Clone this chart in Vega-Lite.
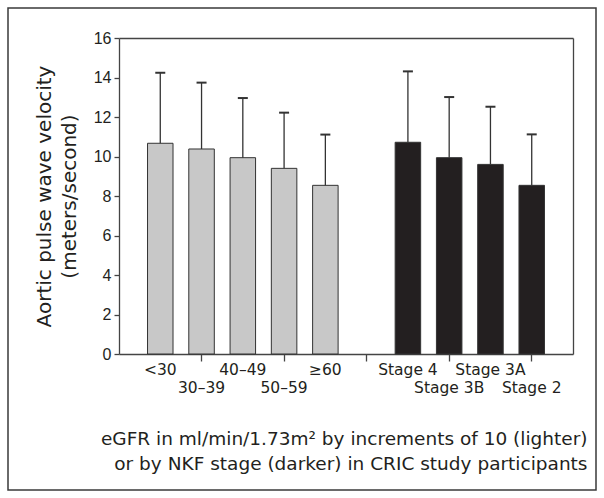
{
  "$schema": "https://vega.github.io/schema/vega-lite/v6.json",
  "width": 588,
  "height": 482,
  "padding": 8,
  "autosize": {"type": "none"},
  "background": "white",
  "config": {
    "view": {"stroke": "#3a3a3a", "strokeWidth": 1.5},
    "font": "DejaVu Sans",
    "axis": {
      "domainColor": "#444444",
      "domainWidth": 1.3,
      "tickColor": "#444444",
      "tickWidth": 1.3,
      "labelColor": "#231f20",
      "titleColor": "#231f20",
      "labelFont": "DejaVu Sans",
      "titleFont": "DejaVu Sans",
      "titleFontWeight": "normal",
      "grid": false
    }
  },
  "data": {
    "values": [
      {"group": "<30", "mean": 10.67, "upper": 14.24, "set": "eGFR"},
      {"group": "30–39", "mean": 10.38, "upper": 13.74, "set": "eGFR"},
      {"group": "40–49", "mean": 9.94, "upper": 12.96, "set": "eGFR"},
      {"group": "50–59", "mean": 9.4, "upper": 12.22, "set": "eGFR"},
      {"group": "≥60", "mean": 8.54, "upper": 11.11, "set": "eGFR"},
      {"group": "Stage 4", "mean": 10.72, "upper": 14.31, "set": "NKF"},
      {"group": "Stage 3B", "mean": 9.94, "upper": 13.01, "set": "NKF"},
      {"group": "Stage 3A", "mean": 9.6, "upper": 12.52, "set": "NKF"},
      {"group": "Stage 2", "mean": 8.54, "upper": 11.12, "set": "NKF"}
    ]
  },
  "resolve": {"axis": {"x": "independent", "y": "independent"}},
  "layer": [
    {
      "mark": {"type": "bar", "stroke": "#333333", "strokeWidth": 1},
      "encoding": {
        "x": {
          "field": "group",
          "type": "nominal",
          "sort": null,
          "scale": {
            "domain": ["<30", "30–39", "40–49", "50–59", "≥60", "gap", "Stage 4", "Stage 3B", "Stage 3A", "Stage 2"],
            "range": [111, 565],
            "paddingInner": 0.382,
            "paddingOuter": 0.691
          },
          "axis": {
            "orient": "bottom",
            "offset": -136,
            "labelAngle": 0,
            "labelFontSize": 15.5,
            "labelBaseline": "top",
            "labelExpr": "datum.value == 'gap' ? '' : datum.value",
            "labelPadding": {"condition": {"test": "indexof(['30–39','50–59','Stage 3B','Stage 2'], datum.value) >= 0", "value": 19}, "value": 1},
            "tickSize": 7,
            "tickOpacity": {"condition": {"test": "indexof(['30–39','50–59','gap','Stage 3B','Stage 2'], datum.value) >= 0", "value": 1}, "value": 0},
            "title": ["eGFR in ml/min/1.73m² by increments of 10 (lighter)", "or by NKF stage (darker) in CRIC study participants"],
            "titleFontSize": 18.5,
            "titleAlign": "right",
            "titleBaseline": "top",
            "titleX": 579,
            "titleY": 75,
            "titleLineHeight": 25
          }
        },
        "y": {
          "field": "mean",
          "type": "quantitative",
          "scale": {"domain": [0, 16], "range": [346, 30], "nice": false},
          "axis": {
            "orient": "left",
            "offset": -111,
            "values": [0, 2, 4, 6, 8, 10, 12, 14, 16],
            "tickSize": 5,
            "labelFont": "Liberation Sans",
            "labelFontSize": 16,
            "labelPadding": 3,
            "title": ["Aortic pulse wave velocity", "(meters/second)"],
            "titleFontSize": 20,
            "titleLineHeight": 25,
            "titlePadding": 14
          }
        },
        "color": {
          "field": "set",
          "type": "nominal",
          "scale": {"domain": ["eGFR", "NKF"], "range": ["#c8c8c8", "#231f20"]},
          "legend": null
        }
      }
    },
    {
      "mark": {"type": "rule", "color": "#333333", "strokeWidth": 1.3},
      "encoding": {
        "x": {"field": "group", "type": "nominal", "sort": null, "axis": null},
        "y": {"field": "mean", "type": "quantitative", "axis": null},
        "y2": {"field": "upper"}
      }
    },
    {
      "mark": {"type": "tick", "orient": "horizontal", "size": 10, "thickness": 2, "color": "#333333", "opacity": 1},
      "encoding": {
        "x": {"field": "group", "type": "nominal", "sort": null, "axis": null},
        "y": {"field": "upper", "type": "quantitative", "axis": null}
      }
    },
    {
      "mark": {"type": "bar", "opacity": 0},
      "encoding": {
        "x": {
          "field": "group",
          "type": "nominal",
          "sort": null,
          "axis": {"orient": "top", "offset": -30, "ticks": false, "labels": false, "title": null}
        },
        "y": {
          "field": "mean",
          "type": "quantitative",
          "axis": {"orient": "right", "offset": -23, "ticks": false, "labels": false, "title": null}
        }
      }
    }
  ]
}
